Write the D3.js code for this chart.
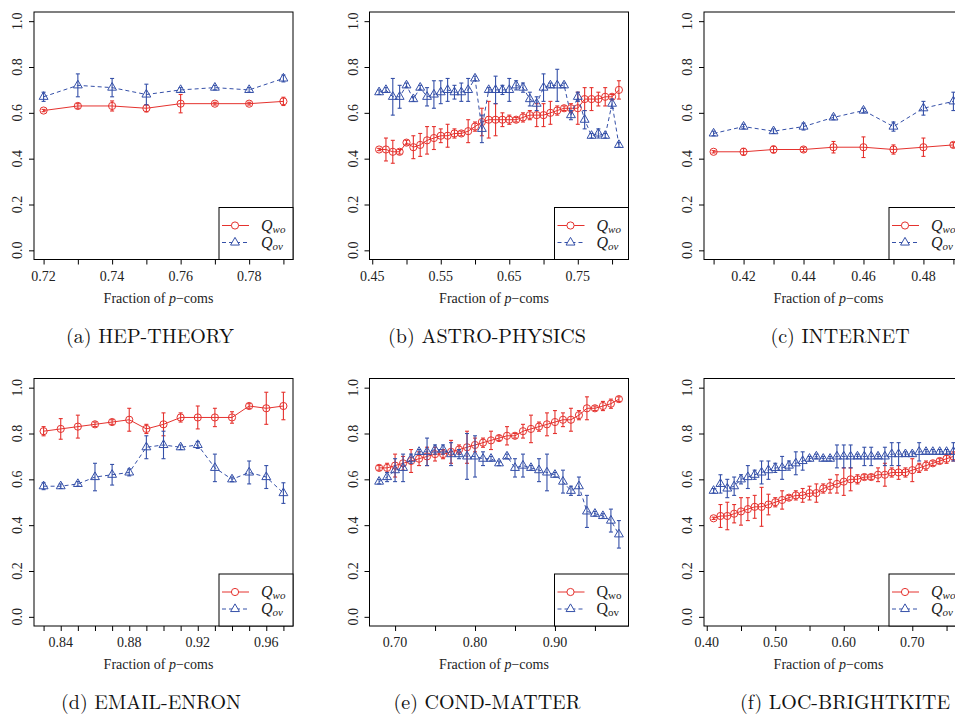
<!DOCTYPE html>
<html><head><meta charset="utf-8">
<script src="https://cdn.jsdelivr.net/npm/d3@7"></script>
<style>
html,body{margin:0;padding:0;background:#fff;}
</style></head>
<body>
<svg id="chart" width="955" height="716"></svg>
<script>
// ---------- DATA ----------
// (a) HEP-THEORY
const xA = [0.72,0.73,0.74,0.75,0.76,0.77,0.78,0.79];
const qwoA = [0.61,0.63,0.63,0.62,0.64,0.64,0.64,0.65];
const qwoErrA = [0.005,0.01,0.022,0.016,0.04,0.006,0.006,0.018];
const qovA = [0.67,0.72,0.71,0.68,0.70,0.71,0.70,0.75];
const qovErrA = [0.02,0.05,0.04,0.045,0.01,0.01,0.01,0.015];
const xTicksA = [0.72,0.73,0.74,0.75,0.76,0.77,0.78,0.79];
const xLabelsA = ["0.72","0.74","0.76","0.78"];

// (b) ASTRO-PHYSICS
const xB = [0.46,0.47,0.48,0.49,0.50,0.51,0.52,0.53,0.54,0.55,0.56,0.57,0.58,0.59,0.60,0.61,0.62,0.63,0.64,0.65,0.66,0.67,0.68,0.69,0.70,0.71,0.72,0.73,0.74,0.75,0.76,0.77,0.78,0.79,0.80,0.81];
const qwoB = [0.44,0.44,0.43,0.43,0.47,0.45,0.46,0.48,0.49,0.50,0.50,0.51,0.51,0.52,0.54,0.56,0.57,0.57,0.57,0.57,0.57,0.58,0.59,0.59,0.59,0.60,0.61,0.62,0.62,0.62,0.66,0.66,0.66,0.67,0.67,0.70];
const qwoErrB = [0.005,0.05,0.05,0.01,0.01,0.05,0.05,0.06,0.05,0.03,0.05,0.02,0.01,0.05,0.02,0.06,0.08,0.07,0.03,0.02,0.01,0.02,0.02,0.05,0.05,0.05,0.02,0.01,0.02,0.07,0.05,0.05,0.03,0.04,0.01,0.04];
const qovB = [0.69,0.70,0.67,0.67,0.72,0.66,0.71,0.67,0.68,0.69,0.70,0.69,0.69,0.70,0.75,0.53,0.70,0.70,0.70,0.70,0.72,0.71,0.66,0.64,0.71,0.72,0.72,0.72,0.59,0.67,0.57,0.50,0.51,0.50,0.64,0.46];
const qovErrB = [0.01,0.01,0.08,0.05,0.01,0.01,0.01,0.04,0.06,0.05,0.05,0.03,0.04,0.05,0.01,0.06,0.01,0.06,0.02,0.05,0.02,0.02,0.03,0.03,0.06,0.01,0.07,0.01,0.02,0.02,0.04,0.01,0.02,0.01,0.02,0.01];
const xTicksB = [0.45,0.50,0.55,0.60,0.65,0.70,0.75,0.80];
const xLabelsB = ["0.45","0.55","0.65","0.75"];

// (c) INTERNET
const xC = [0.41,0.42,0.43,0.44,0.45,0.46,0.47,0.48,0.49];
const qwoC = [0.43,0.43,0.44,0.44,0.45,0.45,0.44,0.45,0.46];
const qwoErrC = [0.005,0.015,0.015,0.01,0.025,0.045,0.02,0.04,0.01];
const qovC = [0.51,0.54,0.52,0.54,0.58,0.61,0.54,0.62,0.65];
const qovErrC = [0.01,0.01,0.01,0.015,0.01,0.01,0.02,0.03,0.04];
const xTicksC = [0.41,0.42,0.43,0.44,0.45,0.46,0.47,0.48,0.49];
const xLabelsC = ["0.42","0.44","0.46","0.48"];

// (d) EMAIL-ENRON
const xD = [0.83,0.84,0.85,0.86,0.87,0.88,0.89,0.90,0.91,0.92,0.93,0.94,0.95,0.96,0.97];
const qwoD = [0.81,0.82,0.83,0.84,0.85,0.86,0.82,0.84,0.87,0.87,0.87,0.87,0.92,0.91,0.92];
const qwoErrD = [0.02,0.045,0.05,0.01,0.01,0.05,0.02,0.05,0.02,0.05,0.04,0.025,0.01,0.07,0.06];
const qovD = [0.57,0.57,0.58,0.61,0.62,0.63,0.74,0.75,0.74,0.75,0.65,0.60,0.63,0.61,0.54];
const qovErrD = [0.015,0.01,0.01,0.06,0.045,0.015,0.05,0.06,0.01,0.015,0.06,0.01,0.05,0.05,0.045];
const xTicksD = [0.83,0.84,0.85,0.86,0.87,0.88,0.89,0.90,0.91,0.92,0.93,0.94,0.95,0.96,0.97];
const xLabelsD = ["0.84","0.88","0.92","0.96"];

// (e) COND-MATTER
const xE = [0.68,0.69,0.70,0.71,0.72,0.73,0.74,0.75,0.76,0.77,0.78,0.79,0.80,0.81,0.82,0.83,0.84,0.85,0.86,0.87,0.88,0.89,0.90,0.91,0.92,0.93,0.94,0.95,0.96,0.97,0.98];
const qwoE = [0.65,0.65,0.66,0.67,0.68,0.69,0.70,0.71,0.71,0.72,0.73,0.74,0.75,0.76,0.77,0.78,0.79,0.79,0.81,0.82,0.83,0.84,0.85,0.86,0.86,0.88,0.91,0.91,0.92,0.93,0.95];
const qwoErrE = [0.01,0.02,0.05,0.03,0.05,0.03,0.04,0.03,0.02,0.05,0.02,0.07,0.03,0.02,0.04,0.01,0.04,0.01,0.03,0.06,0.02,0.05,0.05,0.03,0.05,0.02,0.05,0.01,0.02,0.02,0.01];
const qovE = [0.59,0.61,0.64,0.65,0.69,0.72,0.72,0.73,0.73,0.71,0.71,0.70,0.70,0.69,0.69,0.67,0.70,0.65,0.66,0.65,0.64,0.63,0.62,0.59,0.55,0.57,0.46,0.45,0.44,0.42,0.36];
const qovErrE = [0.01,0.02,0.05,0.06,0.02,0.01,0.06,0.02,0.02,0.05,0.02,0.10,0.09,0.03,0.01,0.01,0.01,0.04,0.05,0.01,0.05,0.08,0.01,0.05,0.02,0.04,0.07,0.01,0.01,0.05,0.06];
const xTicksE = [0.70,0.75,0.80,0.85,0.90,0.95];
const xLabelsE = ["0.70","0.80","0.90"];

// (f) LOC-BRIGHTKITE
const xF = [0.41,0.42,0.43,0.44,0.45,0.46,0.47,0.48,0.49,0.50,0.51,0.52,0.53,0.54,0.55,0.56,0.57,0.58,0.59,0.60,0.61,0.62,0.63,0.64,0.65,0.66,0.67,0.68,0.69,0.70,0.71,0.72,0.73,0.74,0.75,0.76];
const qwoF = [0.43,0.44,0.44,0.45,0.46,0.47,0.48,0.48,0.49,0.50,0.51,0.52,0.53,0.53,0.54,0.54,0.56,0.57,0.58,0.59,0.60,0.60,0.61,0.61,0.62,0.62,0.63,0.63,0.63,0.64,0.65,0.66,0.67,0.68,0.69,0.70];
const qwoErrF = [0.005,0.05,0.06,0.04,0.06,0.05,0.05,0.085,0.045,0.02,0.04,0.01,0.02,0.03,0.03,0.04,0.02,0.03,0.04,0.06,0.05,0.02,0.01,0.01,0.03,0.05,0.02,0.03,0.02,0.05,0.02,0.02,0.01,0.01,0.02,0.02];
const qovF = [0.55,0.58,0.56,0.57,0.60,0.61,0.62,0.63,0.64,0.65,0.65,0.66,0.67,0.68,0.69,0.70,0.69,0.69,0.70,0.70,0.70,0.70,0.70,0.70,0.70,0.70,0.71,0.71,0.71,0.71,0.72,0.72,0.72,0.72,0.72,0.72];
const qovErrF = [0.01,0.04,0.04,0.04,0.02,0.05,0.02,0.05,0.04,0.02,0.05,0.02,0.05,0.04,0.01,0.01,0.01,0.01,0.05,0.05,0.05,0.01,0.04,0.04,0.01,0.04,0.05,0.05,0.01,0.01,0.04,0.01,0.01,0.01,0.01,0.04];
const xTicksF = [0.40,0.45,0.50,0.55,0.60,0.65,0.70,0.75];
const xLabelsF = ["0.40","0.50","0.60","0.70"];

const yTicks = [0.0,0.2,0.4,0.6,0.8,1.0];
const captions = ["(a) HEP-THEORY","(b) ASTRO-PHYSICS","(c) INTERNET","(d) EMAIL-ENRON","(e) COND-MATTER","(f) LOC-BRIGHTKITE"];
const seriesNames = ["wo","ov"];

// ---------- LAYOUT ----------
const FONT = '"Liberation Serif", "Times New Roman", Times, serif';
const CAPFONT = '"Latin Modern Roman", "Liberation Serif", serif';
const RED = "#e5322e", BLUE = "#3550a8";
const W = 259, H = 247.5;
const colX = [34, 369.5, 704];
const rowY = [12, 378.5];
const captionCX = [150, 487, 840, 151, 487, 845];
const captionY = [343, 709];

const panelDefs = [
  {x:xA, wo:qwoA, woE:qwoErrA, ov:qovA, ovE:qovErrA, ticks:xTicksA, labels:xLabelsA, italicLegend:true},
  {x:xB, wo:qwoB, woE:qwoErrB, ov:qovB, ovE:qovErrB, ticks:xTicksB, labels:xLabelsB, italicLegend:true},
  {x:xC, wo:qwoC, woE:qwoErrC, ov:qovC, ovE:qovErrC, ticks:xTicksC, labels:xLabelsC, italicLegend:true},
  {x:xD, wo:qwoD, woE:qwoErrD, ov:qovD, ovE:qovErrD, ticks:xTicksD, labels:xLabelsD, italicLegend:true},
  {x:xE, wo:qwoE, woE:qwoErrE, ov:qovE, ovE:qovErrE, ticks:xTicksE, labels:xLabelsE, italicLegend:false},
  {x:xF, wo:qwoF, woE:qwoErrF, ov:qovF, ovE:qovErrF, ticks:xTicksF, labels:xLabelsF, italicLegend:true}
];

const svg = d3.select("#chart");
const tri = d3.symbol().type(d3.symbolTriangle).size(34);

panelDefs.forEach((p, i) => {
  const left = colX[i % 3], top = rowY[Math.floor(i / 3)];
  const g = svg.append("g").attr("transform", `translate(${left},${top})`);
  const ext = d3.extent(p.x), pad = (ext[1] - ext[0]) * 0.04;
  const x = d3.scaleLinear().domain([ext[0] - pad, ext[1] + pad]).range([0, W]);
  const y = d3.scaleLinear().domain([-0.04, 1.04]).range([H, 0]);

  // x axis ticks
  const xa = g.append("g").attr("transform", `translate(0,${H})`)
    .call(d3.axisBottom(x).tickValues(p.ticks).tickSize(5).tickSizeOuter(0).tickFormat(""));
  xa.select(".domain").remove();
  xa.selectAll("line").attr("stroke", "#000");
  g.selectAll(".xlab").data(p.labels).enter().append("text")
    .attr("x", d => x(+d)).attr("y", H + 21).attr("text-anchor", "middle")
    .style("font-family", FONT).style("font-size", "14px").attr("fill", "#222").text(d => d);

  // y axis
  const ya = g.append("g").call(d3.axisLeft(y).tickValues(yTicks).tickSize(5).tickFormat(""));
  ya.select(".domain").remove();
  ya.selectAll("line").attr("stroke", "#000");
  g.selectAll(".ylab").data(yTicks).enter().append("text")
    .attr("transform", d => `translate(-12,${y(d)}) rotate(-90)`)
    .attr("text-anchor", "middle").style("font-family", FONT).style("font-size", "14px").attr("fill", "#222")
    .text(d => d.toFixed(1));

  // x title
  const t = g.append("text").attr("x", W / 2 - 5).attr("y", H + 43)
    .attr("text-anchor", "middle").style("font-family", FONT).style("font-size", "14px").attr("fill", "#222");
  t.append("tspan").text("Fraction of ");
  t.append("tspan").style("font-style", "italic").text("p");
  t.append("tspan").text("\u2212coms");

  // series
  const series = [
    {v: p.wo, e: p.woE, color: RED, dash: null, shape: "circle"},
    {v: p.ov, e: p.ovE, color: BLUE, dash: "4,3", shape: "tri"}
  ];
  series.forEach(s => {
    const pts = p.x.map((xv, k) => ({x: xv, y: s.v[k], e: s.e[k]}));
    g.append("path").datum(pts)
      .attr("fill", "none").attr("stroke", s.color).attr("stroke-width", 1)
      .attr("stroke-dasharray", s.dash)
      .attr("d", d3.line().x(d => x(d.x)).y(d => y(d.y)));
    const eb = g.append("g").attr("stroke", s.color).attr("stroke-width", 1.1);
    pts.forEach(d => {
      const cx = x(d.x), y0 = y(d.y - d.e), y1 = y(d.y + d.e);
      eb.append("line").attr("x1", cx).attr("x2", cx).attr("y1", y0).attr("y2", y1);
      eb.append("line").attr("x1", cx - 2).attr("x2", cx + 2).attr("y1", y0).attr("y2", y0);
      eb.append("line").attr("x1", cx - 2).attr("x2", cx + 2).attr("y1", y1).attr("y2", y1);
    });
    if (s.shape === "circle") {
      g.selectAll(null).data(pts).enter().append("circle")
        .attr("cx", d => x(d.x)).attr("cy", d => y(d.y)).attr("r", 3.6)
        .attr("fill", "none").attr("stroke", s.color).attr("stroke-width", 1);
    } else {
      g.selectAll(null).data(pts).enter().append("path")
        .attr("d", tri).attr("transform", d => `translate(${x(d.x)},${y(d.y)})`)
        .attr("fill", "none").attr("stroke", s.color).attr("stroke-width", 1);
    }
  });

  // box
  g.append("rect").attr("x", 0).attr("y", 0).attr("width", W).attr("height", H)
    .attr("fill", "none").attr("stroke", "#000").attr("stroke-width", 1);

  // legend
  const lw = 74, lh = 52;
  const lg = g.append("g").attr("transform", `translate(${W - lw},${H - lh})`);
  lg.append("rect").attr("width", lw).attr("height", lh).attr("fill", "#fff")
    .attr("stroke", "#000").attr("stroke-width", 1);
  series.forEach((s, k) => {
    const yy = 18 + k * 17;
    lg.append("line").attr("x1", 3).attr("x2", 30).attr("y1", yy).attr("y2", yy)
      .attr("stroke", s.color).attr("stroke-dasharray", s.dash);
    if (s.shape === "circle") {
      lg.append("circle").attr("cx", 16).attr("cy", yy).attr("r", 3.6)
        .attr("fill", "#fff").attr("stroke", s.color);
    } else {
      lg.append("path").attr("d", tri).attr("transform", `translate(16,${yy})`)
        .attr("fill", "#fff").attr("stroke", s.color);
    }
    const st = p.italicLegend ? "italic" : "normal";
    const tx = lg.append("text").attr("x", 42).attr("y", yy + 5).attr("fill", "#222")
      .style("font-family", FONT);
    tx.append("tspan").style("font-size", "16px").style("font-style", st).text("Q");
    tx.append("tspan").style("font-size", "11px").attr("dy", 2).style("font-style", st).text(seriesNames[k]);
  });

  // caption
  svg.append("text").attr("x", captionCX[i]).attr("y", captionY[Math.floor(i / 3)])
    .attr("text-anchor", "middle").style("font-family", CAPFONT).style("font-size", "20px").attr("fill", "#111")
    .text(captions[i]);
});
</script>
</body></html>
